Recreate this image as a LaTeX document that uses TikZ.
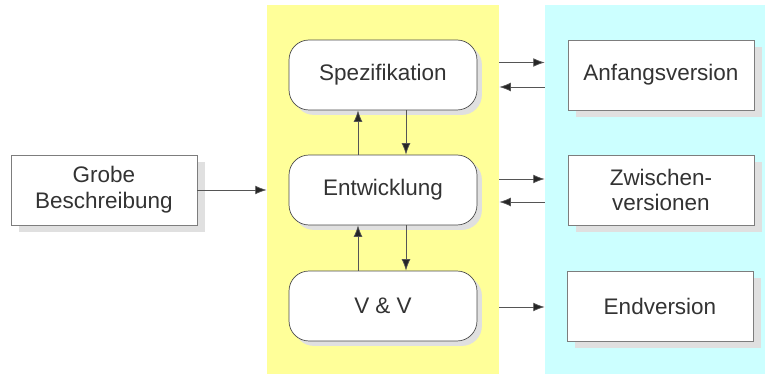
\documentclass[tikz,border=0pt]{standalone}
\usepackage{fontspec}
\setmainfont{Liberation Sans}
\usetikzlibrary{arrows.meta,shadows}

\definecolor{gelb}{RGB}{255,255,153}
\definecolor{tuerkis}{RGB}{204,255,255}
\definecolor{rand}{RGB}{125,125,125}
\definecolor{pfeil}{RGB}{85,85,85}

\begin{document}
\begin{tikzpicture}[x=0.02cm,y=-0.02cm]
\tikzstyle{every node}=[font=\fontsize{12.8}{14.7}\selectfont, text=black!80]
\tikzstyle{phase}=[draw=black!70, fill=white, rounded corners=0.4cm,
	minimum width=3.76cm, minimum height=1.4cm,
	drop shadow={shadow xshift=2.8pt, shadow yshift=-2.8pt, fill=black!12, opacity=1}]
\tikzstyle{version}=[draw=rand, fill=white, align=center,
	minimum width=3.72cm, minimum height=1.4cm,
	drop shadow={shadow xshift=4.5pt, shadow yshift=-4pt, fill=black!12, opacity=1}]
\tikzstyle{fluss}=[draw=pfeil, -{Latex[length=6.5pt,width=5pt,fill=black!85]}]

\useasboundingbox (0,0) rectangle (765,374);

\node[fill=gelb, inner sep=0, minimum width=4.64cm, minimum height=7.38cm] (gelbfeld) at (383,189.5) {};
\node[fill=tuerkis, inner sep=0, minimum width=4.4cm, minimum height=7.38cm] (tuerkisfeld) at (655,189.5) {};

\node[version] (grobe) at (104,190) {Grobe\\Beschreibung};

\node[phase] (spez) at (383,75) {Spezifikation};
\node[phase] (entw) at (383,190) {Entwicklung};
\node[phase] (vuv) at (383,306) {V \& V};

\node[version] (anfang) at (661,75) {Anfangsversion};
\node[version] (zwischen) at (661,190) {Zwischen-\\versionen};
\node[version] (ende) at (660,306) {Endversion};

\draw[fluss] (grobe.east) -- (grobe.east -| gelbfeld.west);

\draw[fluss] ([xshift=-0.5cm]entw.north) -- ([xshift=-0.5cm]spez.south);
\draw[fluss] ([xshift=0.46cm]spez.south) -- ([xshift=0.46cm]entw.north);
\draw[fluss] ([xshift=-0.5cm]vuv.north) -- ([xshift=-0.5cm]entw.south);
\draw[fluss] ([xshift=0.46cm]entw.south) -- ([xshift=0.46cm]vuv.north);

\draw[fluss] ([yshift=0.25cm]spez.east -| gelbfeld.east) -- ([yshift=0.25cm]spez.east -| tuerkisfeld.west);
\draw[fluss] ([yshift=-0.24cm]spez.east -| tuerkisfeld.west) -- ([yshift=-0.24cm]spez.east -| gelbfeld.east);
\draw[fluss] ([yshift=0.22cm]entw.east -| gelbfeld.east) -- ([yshift=0.22cm]entw.east -| tuerkisfeld.west);
\draw[fluss] ([yshift=-0.24cm]entw.east -| tuerkisfeld.west) -- ([yshift=-0.24cm]entw.east -| gelbfeld.east);
\draw[fluss] ([yshift=-0.02cm]vuv.east -| gelbfeld.east) -- ([yshift=-0.02cm]vuv.east -| tuerkisfeld.west);

\end{tikzpicture}
\end{document}
